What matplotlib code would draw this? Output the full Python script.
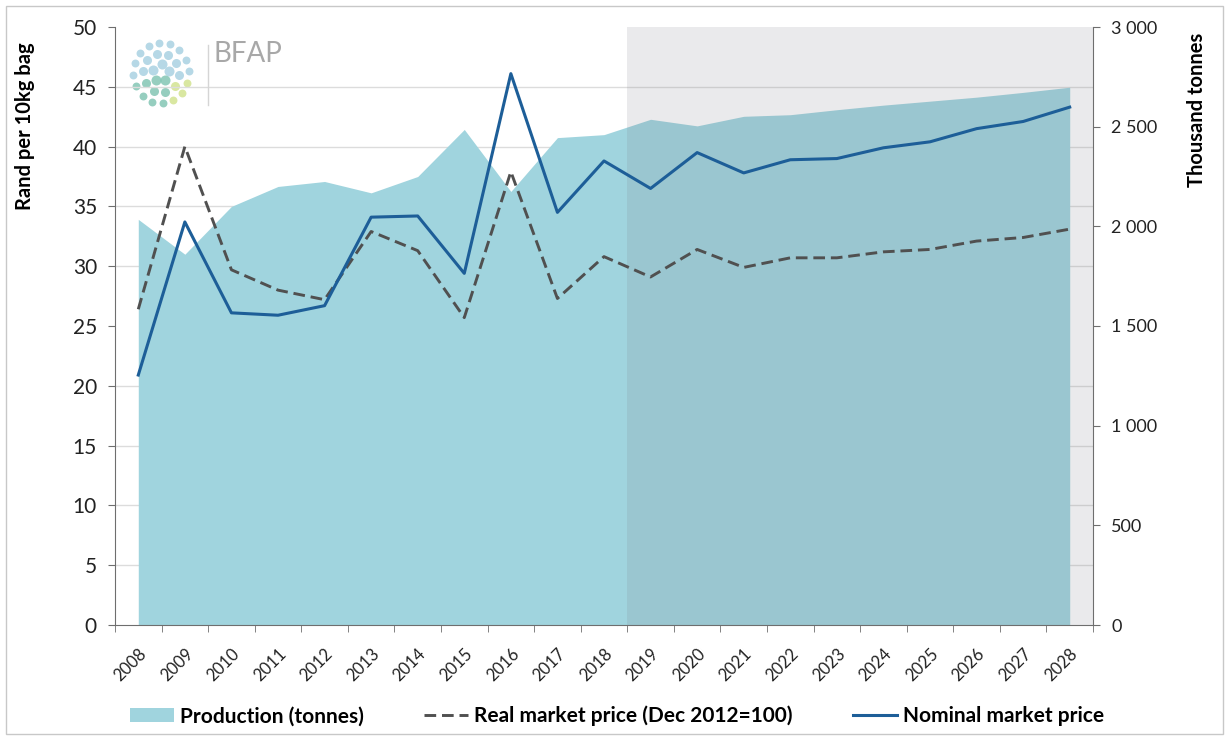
import numpy as np
import matplotlib.pyplot as plt
import matplotlib.ticker as mticker
from matplotlib.patches import Patch, Rectangle
from matplotlib.lines import Line2D

plt.rcParams['font.family'] = ['Lato', 'DejaVu Sans']

years = [str(y) for y in range(2008, 2029)]
production = [2035, 1860, 2100, 2200, 2225, 2168, 2250, 2486, 2175, 2445, 2460,
              2537, 2504, 2552, 2560, 2585, 2608, 2628, 2648, 2672, 2698]
real_price = [26.4, 40.0, 29.7, 28.0, 27.2, 32.9, 31.3, 25.7, 37.9, 27.3, 30.8,
              29.1, 31.4, 29.9, 30.7, 30.7, 31.2, 31.4, 32.1, 32.4, 33.1]
nominal_price = [20.9, 33.7, 26.1, 25.9, 26.7, 34.1, 34.2, 29.4, 46.1, 34.5, 38.8,
                 36.5, 39.5, 37.8, 38.9, 39.0, 39.9, 40.4, 41.5, 42.1, 43.3]
forecast_start = "2019"

area_color = "#A0D4DE"
nominal_color = "#1D5E98"
real_color = "#505050"
axis_color = "#6E6E6E"

x = np.arange(len(years))

fig = plt.figure(figsize=(12.29, 7.40), dpi=100)
fig.patch.set_facecolor('white')
ax = fig.add_axes([115 / 1229, 1 - 625 / 740, 978 / 1229, 598 / 740])
ax2 = ax.twinx()
ax.set_zorder(2)
ax2.set_zorder(1)
ax.patch.set_visible(False)

# production area on the right axis, behind the price lines
ax2.set_ylim(0, 3000)
ax2.yaxis.set_major_locator(mticker.MultipleLocator(500))
ax2.yaxis.set_minor_locator(mticker.MultipleLocator(300))
ax2.grid(which='minor', axis='y', color='#DCDCDC', linewidth=1, zorder=0)
ax2.set_axisbelow(True)
ax2.fill_between(x, production, color=area_color, linewidth=0, zorder=2)
fc = years.index(forecast_start)
ax2.axvspan(fc - 0.5, len(years) - 0.5, color='#80808A', alpha=0.16, linewidth=0, zorder=3)

ax2.yaxis.set_major_formatter(mticker.FuncFormatter(lambda v, _: f"{int(v):,}".replace(",", " ")))
ax2.tick_params(axis='y', which='major', direction='out', length=5, color=axis_color,
                labelsize=13, labelcolor='#222222', pad=8)
ax2.tick_params(axis='y', which='minor', length=0)
ax2.set_ylabel("Thousand tonnes", fontsize=14.5, fontweight='bold')
ax2.yaxis.set_label_coords(1.096, 0.861)
for s in ['top', 'left', 'bottom']:
    ax2.spines[s].set_visible(False)
ax2.spines['right'].set_color(axis_color)

# price lines
ax.plot(x, real_price, color=real_color, linestyle=(0, (4, 2)), linewidth=2.1)
ax.plot(x, nominal_price, color=nominal_color, linewidth=2.2)

ax.set_ylim(0, 50)
ax.yaxis.set_major_locator(mticker.MultipleLocator(5))
ax.set_xlim(-0.5, len(years) - 0.5)
ax.set_xticks(x)
ax.set_xticklabels(years, rotation=45, ha='right', rotation_mode='anchor', fontsize=12)
ax.xaxis.set_minor_locator(mticker.FixedLocator(np.arange(-0.5, len(years), 1)))
ax.tick_params(axis='x', which='major', length=0, pad=15, labelcolor='#222222')
ax.tick_params(axis='x', which='minor', length=5, color=axis_color)
ax.tick_params(axis='y', direction='out', length=5, color=axis_color,
               labelsize=15, labelcolor='#222222', pad=8)
ax.set_ylabel("Rand per 10kg bag", fontsize=14.5, fontweight='bold')
ax.yaxis.set_label_coords(-0.082, 0.834)
ax.spines['top'].set_visible(False)
ax.spines['right'].set_visible(False)
ax.spines['left'].set_color(axis_color)
ax.spines['bottom'].set_color(axis_color)

# BFAP logo (approximation)
logo = fig.add_axes([125 / 1229, 1 - 112 / 740, 72 / 1229, 78 / 740])
logo.set_xlim(-1.1, 1.1)
logo.set_ylim(-1.1, 1.1)
logo.axis('off')
for r, n in [(0.25, 5), (0.55, 10), (0.85, 16)]:
    ang = np.linspace(0, 2 * np.pi, n, endpoint=False) + r
    for a in ang:
        px, py = r * np.cos(a), r * np.sin(a)
        if py > -0.1:
            c = '#A4CFE0'
        elif px < 0.15:
            c = '#7CC2B0'
        else:
            c = '#D0E28A'
        logo.scatter(px, py, s=55 * (1.1 - r * 0.6), color=c, alpha=0.8, linewidths=0)
fig.add_artist(Line2D([208 / 1229, 208 / 1229], [1 - 45 / 740, 1 - 105 / 740],
                      transform=fig.transFigure, color='#D5D5D5', linewidth=1))
fig.text(214 / 1229, 1 - 54 / 740, "BFAP", fontsize=20, color='#A8A8A8', va='center')

# legend
handles = [
    Patch(facecolor=area_color, edgecolor='none'),
    Line2D([0], [0], color=real_color, linestyle=(0, (4, 2)), linewidth=2.1),
    Line2D([0], [0], color=nominal_color, linewidth=2.2),
]
labels = ["Production (tonnes)", "Real market price (Dec 2012=100)", "Nominal market price"]
fig.legend(handles, labels, loc='center', bbox_to_anchor=(0.502, 1 - 716 / 740), ncol=3,
           frameon=False, handlelength=2.1, handletextpad=0.3, columnspacing=2.9,
           prop={'size': 15, 'weight': 'bold'})

# outer frame
fig.add_artist(Rectangle((6 / 1229, 6 / 740), 1 - 12 / 1229, 1 - 12 / 740,
                         transform=fig.transFigure, fill=False, edgecolor='#C8C8C8', linewidth=1))

fig.savefig("out.png", dpi=100)
